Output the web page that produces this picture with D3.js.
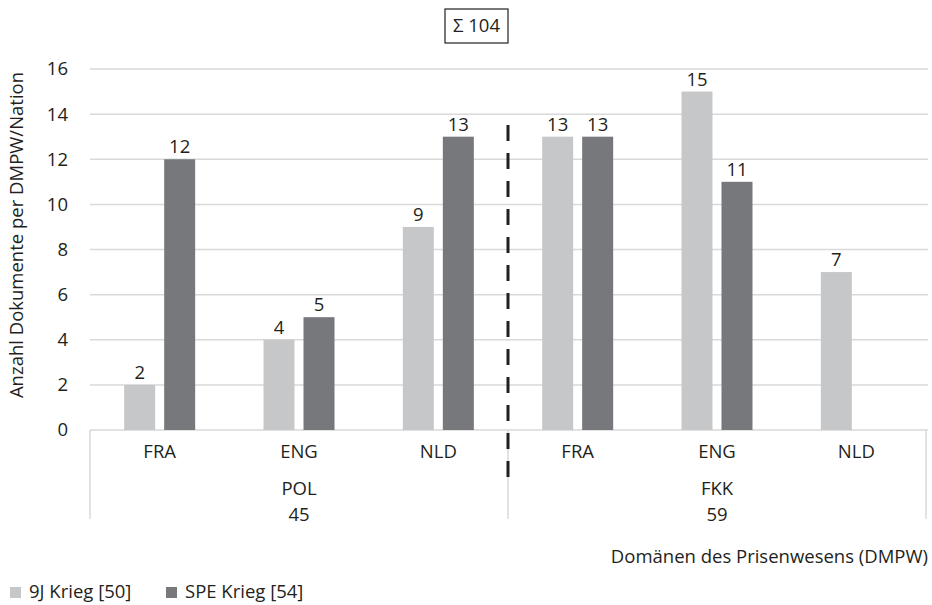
<!DOCTYPE html>
<html><head><meta charset="utf-8">
<script src="https://cdn.jsdelivr.net/npm/d3@7"></script>
<style>
html,body{margin:0;padding:0;background:#fff;}
svg text{font-family:"Open Sans",sans-serif;fill:#231f20;}
</style></head>
<body>
<svg id="c" width="932" height="605"></svg>
<script>
const nations = ["FRA","ENG","NLD","FRA","ENG","NLD"];
const groups = ["POL","FKK"];
const groupTotals = [45, 59];
const series = ["9J Krieg [50]","SPE Krieg [54]"];
const values9J = [2, 4, 9, 13, 15, 7];
const valuesSPE = [12, 5, 13, 13, 11, null];
const yTicks = [0,2,4,6,8,10,12,14,16];
const totalLabel = "Σ 104";
const yTitle = "Anzahl Dokumente per DMPW/Nation";
const xTitle = "Domänen des Prisenwesens (DMPW)";
const colors = ["#c6c7c9","#77787b"];

(function(){
const svg = d3.select("#c");
const FS = 18.5;
const pL = 90, pR = 926, pT = 69, pB = 430;
const y = d3.scaleLinear().domain([0,16]).range([pB, pT]);
const x = d3.scaleBand().domain(d3.range(nations.length)).range([pL, pR]).paddingInner(0).paddingOuter(0);
const bw = 31, gap = 9;
const sub = d3.scaleOrdinal().domain([0,1]).range([-(bw + gap/2), gap/2]);

svg.append("g").selectAll("line").data(yTicks).join("line")
  .attr("x1", pL).attr("x2", pR + 2)
  .attr("y1", d => y(d)).attr("y2", d => y(d))
  .attr("stroke", "#d9d9d9").attr("stroke-width", 1.5);

svg.append("g").selectAll("text").data(yTicks).join("text")
  .attr("x", 68).attr("y", d => y(d)).attr("dy", "0.35em")
  .attr("text-anchor", "end").attr("font-size", FS).text(d => d);

const data = [];
nations.forEach((n, i) => {
  [values9J[i], valuesSPE[i]].forEach((v, s) => {
    if (v !== null) data.push({i, s, v});
  });
});
const cx = i => x(i) + x.bandwidth()/2;
svg.append("g").selectAll("rect").data(data).join("rect")
  .attr("x", d => cx(d.i) + sub(d.s))
  .attr("width", bw)
  .attr("y", d => y(d.v))
  .attr("height", d => y(0) - y(d.v))
  .attr("fill", d => colors[d.s]);

svg.append("g").selectAll("text").data(data).join("text")
  .attr("x", d => cx(d.i) + sub(d.s) + bw/2)
  .attr("y", d => y(d.v) - 6)
  .attr("text-anchor", "middle").attr("font-size", FS).text(d => d.v);

const sepX = [pL, x(3), pR];
svg.append("g").selectAll("line").data(sepX).join("line")
  .attr("x1", d => d).attr("x2", d => d)
  .attr("y1", pB).attr("y2", 519)
  .attr("stroke", "#d9d9d9").attr("stroke-width", 1.5);

svg.append("g").selectAll("text").data(nations).join("text")
  .attr("x", (d, i) => cx(i)).attr("y", 452).attr("dy", "0.35em")
  .attr("text-anchor", "middle").attr("font-size", FS).text(d => d);

groups.forEach((g, k) => {
  const gx = (x(k*3) + x(k*3+2) + x.bandwidth()) / 2;
  svg.append("text").attr("x", gx).attr("y", 489).attr("dy", "0.35em")
    .attr("text-anchor", "middle").attr("font-size", FS).text(g);
  svg.append("text").attr("x", gx).attr("y", 515).attr("dy", "0.35em")
    .attr("text-anchor", "middle").attr("font-size", FS).text(groupTotals[k]);
});

svg.append("line").attr("x1", x(3)).attr("x2", x(3))
  .attr("y1", 125).attr("y2", 478)
  .attr("stroke", "#231f20").attr("stroke-width", 3)
  .attr("stroke-dasharray", "16,12");

const bx = 445, by = 9, bwid = 63, bh = 34;
svg.append("rect").attr("x", bx).attr("y", by).attr("width", bwid).attr("height", bh)
  .attr("fill", "#fff").attr("stroke", "#231f20").attr("stroke-width", 1.2);
svg.append("text").attr("x", bx + bwid/2).attr("y", by + bh/2).attr("dy", "0.35em")
  .attr("text-anchor", "middle").attr("font-size", FS).text(totalLabel);

svg.append("text").attr("transform", "translate(17,235) rotate(-90)")
  .attr("dy", "0.35em").attr("text-anchor", "middle").attr("font-size", FS).text(yTitle);

svg.append("text").attr("x", 928).attr("y", 557).attr("dy", "0.35em")
  .attr("text-anchor", "end").attr("font-size", FS).text(xTitle);

const legX = [10, 166];
series.forEach((s, k) => {
  svg.append("rect").attr("x", legX[k]).attr("y", 587).attr("width", 11).attr("height", 11)
    .attr("fill", colors[k]);
  svg.append("text").attr("x", legX[k] + 19).attr("y", 592).attr("dy", "0.35em")
    .attr("font-size", FS).text(s);
});
})();
</script>
</body></html>
